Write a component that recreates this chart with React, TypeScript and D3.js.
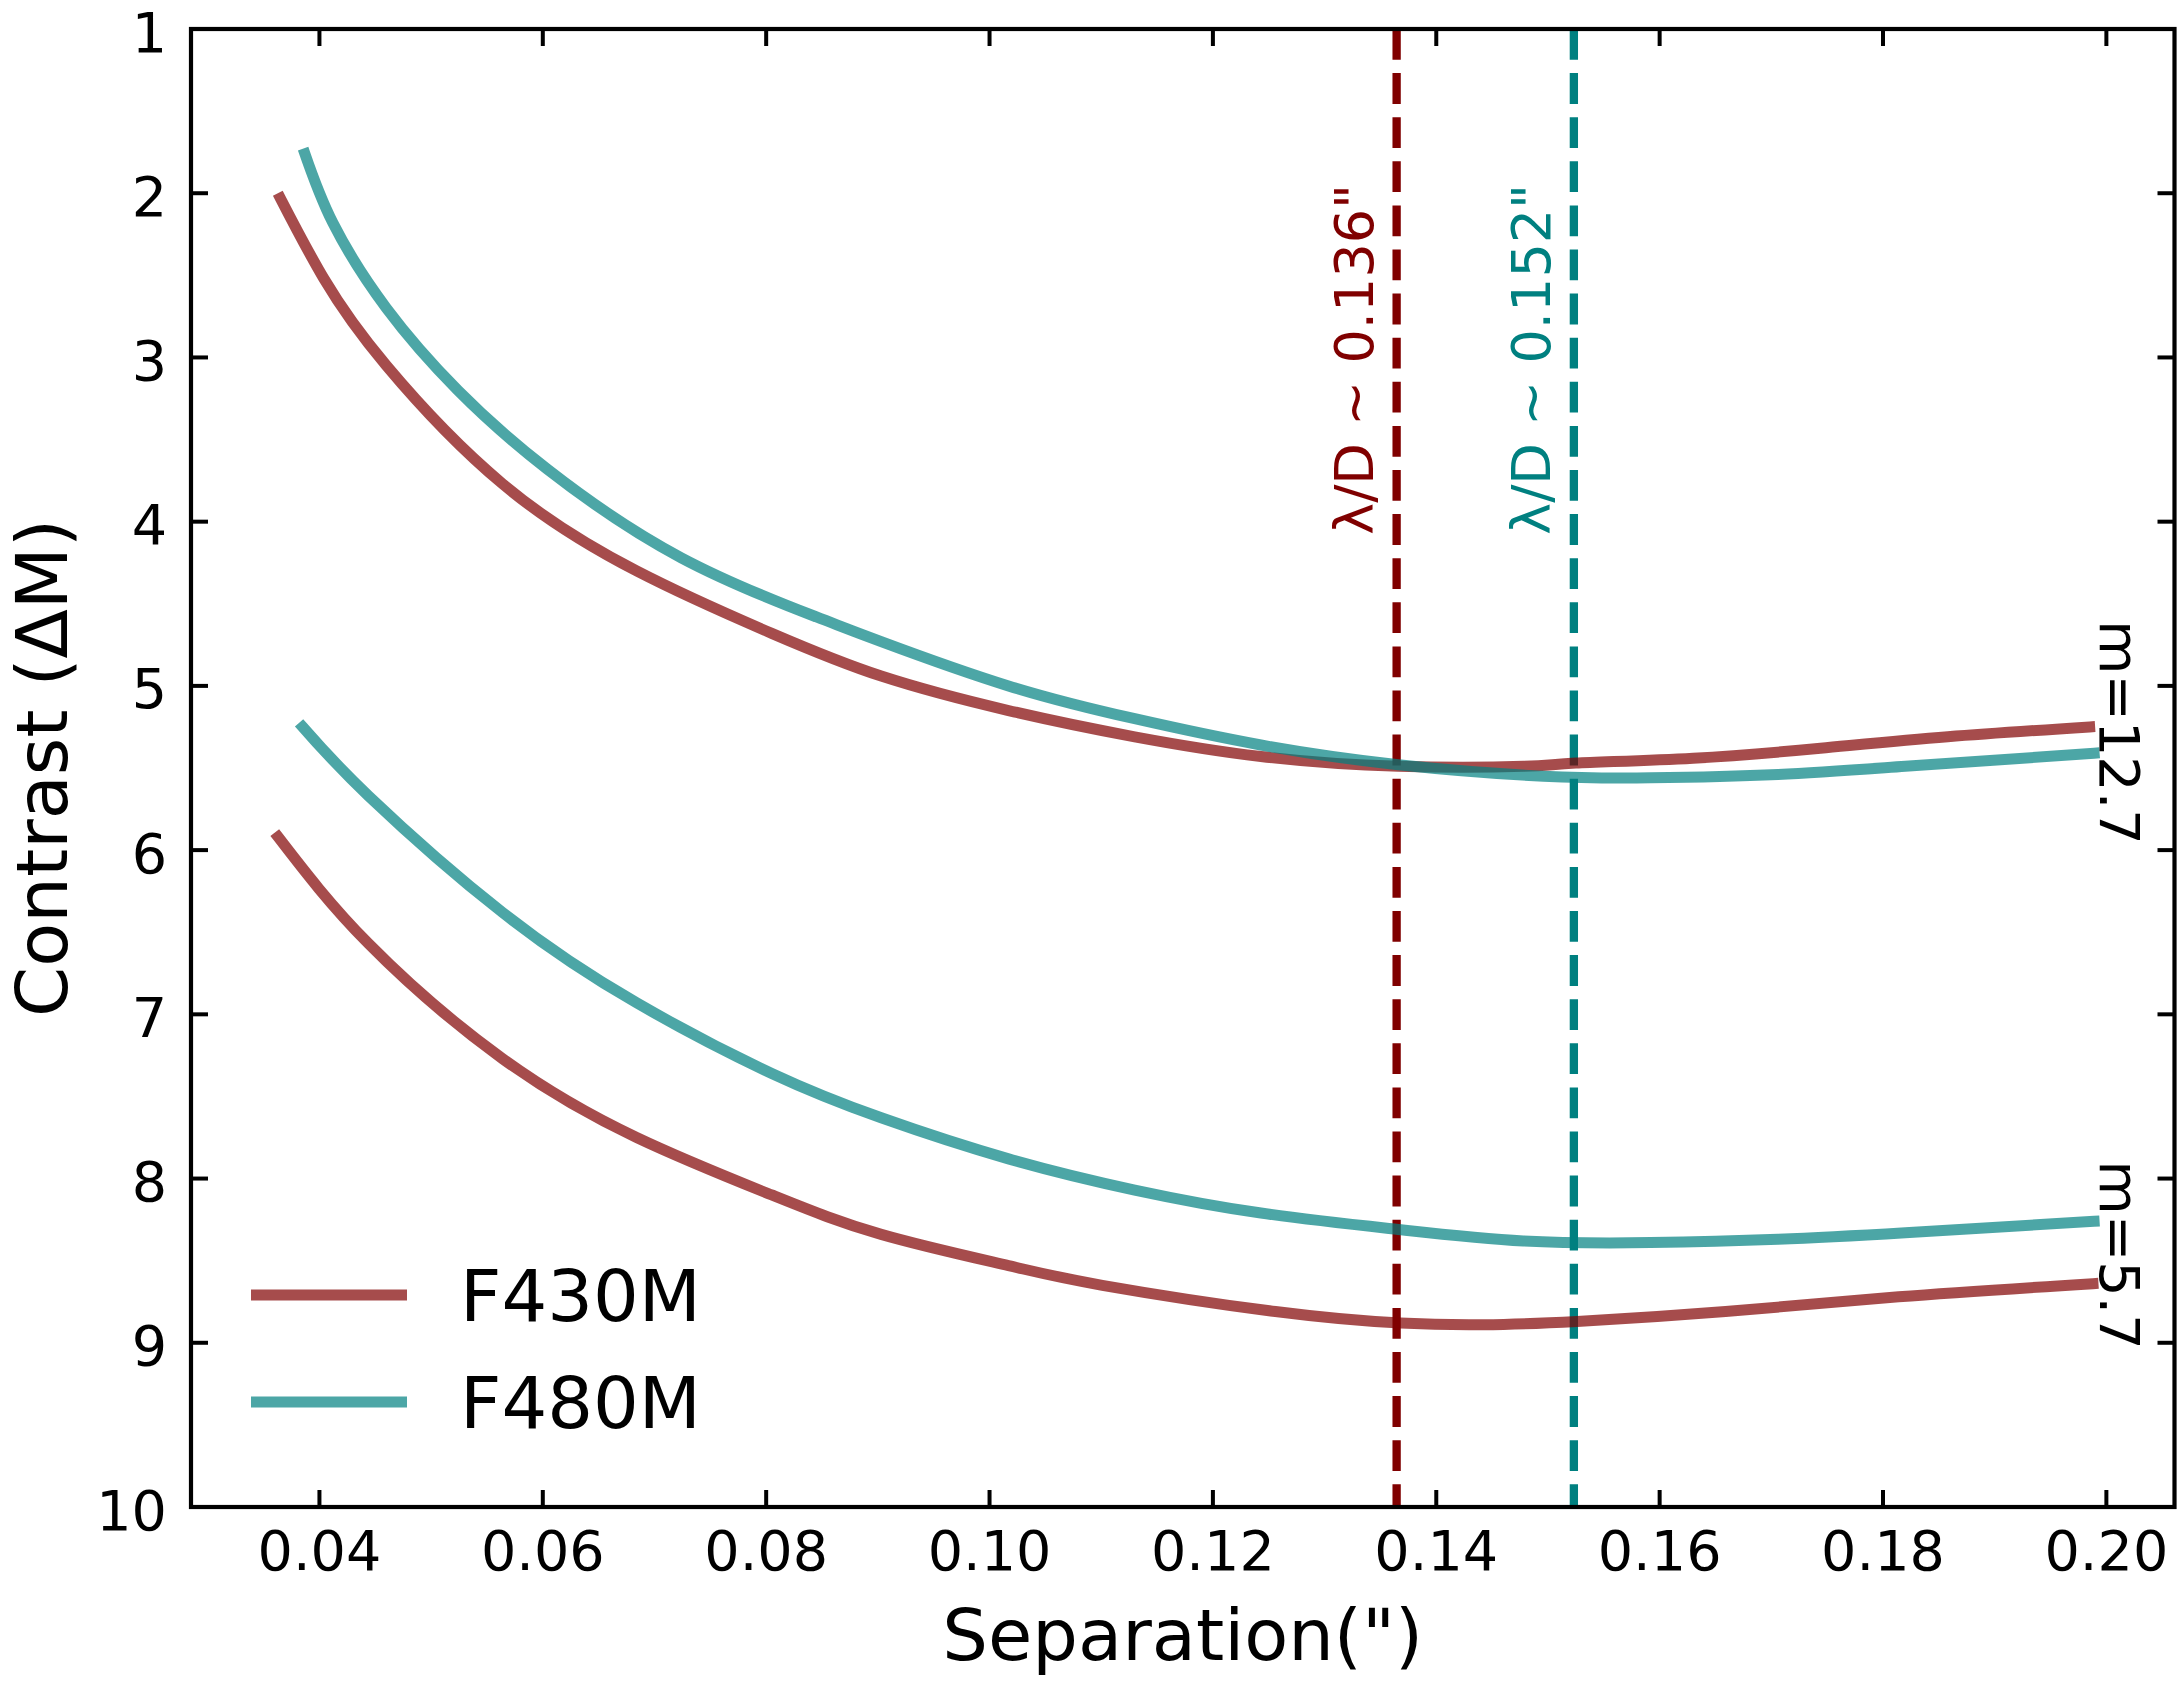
import * as d3 from "d3";

// separation (arcsec) and contrast (delta mag)
const f430Sep12 = [0.0365, 0.0404, 0.046, 0.0564, 0.0684, 0.0805, 0.0903, 0.1017, 0.113, 0.1243, 0.1366, 0.1478, 0.1525, 0.163, 0.1744, 0.1858, 0.1985];
const f430Con12 = [2.03, 2.52, 3.05, 3.77, 4.3, 4.68, 4.94, 5.15, 5.31, 5.43, 5.49, 5.49, 5.47, 5.44, 5.38, 5.31, 5.25];

const f480Sep12 = [0.0387, 0.0412, 0.046, 0.0524, 0.0604, 0.0724, 0.0845, 0.0903, 0.1017, 0.113, 0.1243, 0.1366, 0.1496, 0.1592, 0.1706, 0.182, 0.1989];
const f480Con12 = [1.76, 2.18, 2.7, 3.2, 3.68, 4.22, 4.58, 4.73, 5.0, 5.2, 5.36, 5.48, 5.55, 5.56, 5.54, 5.49, 5.41];

const f480Sep57 = [0.0385, 0.0444, 0.0564, 0.0684, 0.0805, 0.0903, 0.1017, 0.113, 0.1243, 0.1366, 0.1478, 0.1592, 0.1706, 0.182, 0.1989];
const f480Con57 = [5.25, 5.67, 6.38, 6.93, 7.36, 7.63, 7.88, 8.07, 8.21, 8.31, 8.38, 8.39, 8.37, 8.33, 8.26];

const f430Sep57 = [0.0363, 0.0444, 0.0564, 0.0684, 0.0805, 0.0903, 0.1017, 0.1101, 0.1256, 0.1368, 0.1442, 0.1526, 0.1659, 0.1814, 0.1988];
const f430Con57 = [5.92, 6.57, 7.27, 7.75, 8.1, 8.34, 8.53, 8.65, 8.81, 8.88, 8.89, 8.87, 8.81, 8.72, 8.64];

const xTicks = [0.04, 0.06, 0.08, 0.1, 0.12, 0.14, 0.16, 0.18, 0.2];
const yTicks = [1, 2, 3, 4, 5, 6, 7, 8, 9, 10];

const filters = ["F430M", "F480M"];
const lambdaOverD = [0.13645, 0.15232];
const lambdaLabels = ['λ/D ~ 0.136"', 'λ/D ~ 0.152"'];
const massLabels = ["m=12.7", "m=5.7"];
const massLabelY = [4.6, 7.89];

const RED = "#800000";
const TEAL = "#008080";
const FONT = "DejaVu Sans";

const W = 2183;
const H = 1682;
const margin = { left: 191, right: 2174.5, top: 29, bottom: 1507 };

export default function App() {
  const x = d3.scaleLinear().domain([0.0285, 0.2061]).range([margin.left, margin.right]);
  const y = d3.scaleLinear().domain([1, 10]).range([margin.top, margin.bottom]);

  const line = d3
    .line<[number, number]>()
    .x((d) => x(d[0]))
    .y((d) => y(d[1]))
    .curve(d3.curveNatural);

  const zip = (a: number[], b: number[]) => a.map((v, i) => [v, b[i]] as [number, number]);

  const series = [
    { pts: zip(f430Sep12, f430Con12), color: RED },
    { pts: zip(f480Sep12, f480Con12), color: TEAL },
    { pts: zip(f480Sep57, f480Con57), color: TEAL },
    { pts: zip(f430Sep57, f430Con57), color: RED },
  ];
  const colors = [RED, TEAL];

  const tickLen = 17;

  return (
    <svg
      width={W}
      height={H}
      style={{ position: "absolute", left: 0, top: 0, background: "#fff" }}
      fontFamily={FONT}
    >
      <rect x={0} y={0} width={W} height={H} fill="#fff" />

      {/* lambda/D lines */}
      {lambdaOverD.map((v, i) => (
        <line
          key={"ld" + i}
          x1={x(v)}
          x2={x(v)}
          y1={margin.top}
          y2={margin.bottom}
          stroke={colors[i]}
          strokeWidth={8.3}
          strokeDasharray="30.8,13.3"
        />
      ))}

      {/* curves */}
      {series.map((s, i) => (
        <path
          key={"s" + i}
          d={line(s.pts) || ""}
          fill="none"
          stroke={s.color}
          strokeOpacity={0.7}
          strokeWidth={11}
          strokeLinecap="square"
        />
      ))}

      {/* lambda/D labels */}
      {lambdaOverD.map((v, i) => (
        <text
          key={"lt" + i}
          transform={`translate(${x(v) - 24},${y(4.08)}) rotate(-90)`}
          fontSize={54}
          fill={colors[i]}
        >
          {lambdaLabels[i]}
        </text>
      ))}

      {/* mass labels */}
      {massLabels.map((t, i) => (
        <text
          key={"m" + i}
          transform={`translate(${x(0.1994)},${y(massLabelY[i])}) rotate(90)`}
          fontSize={55.6}
          fill="#000"
        >
          {t}
        </text>
      ))}

      {/* ticks, all four sides, pointing in */}
      {xTicks.map((t) => (
        <g key={"xt" + t}>
          <line x1={x(t)} x2={x(t)} y1={margin.bottom} y2={margin.bottom - tickLen} stroke="#000" strokeWidth={4} />
          <line x1={x(t)} x2={x(t)} y1={margin.top} y2={margin.top + tickLen} stroke="#000" strokeWidth={4} />
          <text x={x(t)} y={margin.bottom + 63} fontSize={55.6} textAnchor="middle">
            {t.toFixed(2)}
          </text>
        </g>
      ))}
      {yTicks.map((t) => (
        <g key={"yt" + t}>
          <line x1={margin.left} x2={margin.left + tickLen} y1={y(t)} y2={y(t)} stroke="#000" strokeWidth={4} />
          <line x1={margin.right} x2={margin.right - tickLen} y1={y(t)} y2={y(t)} stroke="#000" strokeWidth={4} />
          <text x={margin.left - 24} y={y(t) + 22.5} fontSize={55.6} textAnchor="end">
            {t}
          </text>
        </g>
      ))}

      {/* frame */}
      <rect
        x={margin.left}
        y={margin.top}
        width={margin.right - margin.left}
        height={margin.bottom - margin.top}
        fill="none"
        stroke="#000"
        strokeWidth={4.2}
      />

      {/* axis labels */}
      <text x={(margin.left + margin.right) / 2} y={1660} fontSize={72} textAnchor="middle">
        Separation(")
      </text>
      <text
        transform={`translate(67,${(margin.top + margin.bottom) / 2}) rotate(-90)`}
        fontSize={72}
        textAnchor="middle"
      >
        Contrast (ΔM)
      </text>

      {/* legend */}
      {filters.map((f, i) => (
        <g key={"lg" + i}>
          <line
            x1={256.5}
            x2={401.5}
            y1={1295 + i * 107}
            y2={1295 + i * 107}
            stroke={colors[i]}
            strokeOpacity={0.7}
            strokeWidth={11}
            strokeLinecap="square"
          />
          <text x={460} y={1320.5 + i * 107} fontSize={72}>
            {f}
          </text>
        </g>
      ))}
    </svg>
  );
}
